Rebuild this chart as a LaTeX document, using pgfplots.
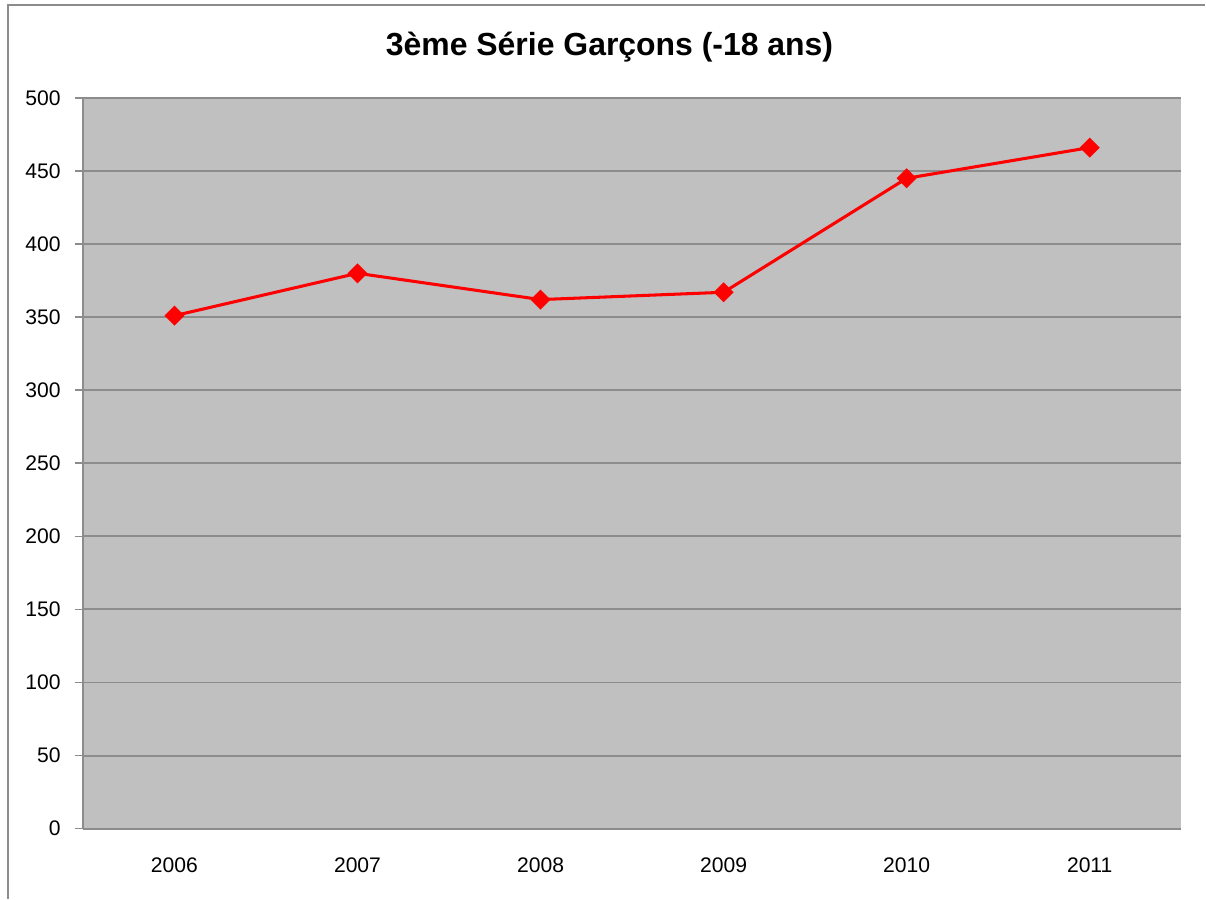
\documentclass[border=0pt]{standalone}
\usepackage{fontspec}
\setmainfont{Liberation Sans}
\usepackage{pgfplots}
\pgfplotsset{compat=1.18}
\definecolor{plotbg}{HTML}{C0C0C0}
\definecolor{gridc}{HTML}{8C8C8C}
\begin{document}
\begin{tikzpicture}
\begin{axis}[
  scale only axis,
  width=395.6pt, height=263.2pt,
  xmin=-0.5, xmax=5.5,
  ymin=0, ymax=500,
  ytick={0,50,...,500},
  xtick={0,...,5},
  xticklabels={2006,2007,2008,2009,2010,2011},
  extra x ticks={-0.5,0.5,1.5,2.5,3.5,4.5,5.5},
  extra x tick labels={},
  extra x tick style={major tick length=3pt, tick style={gridc, line width=0.6pt}, grid=none},
  major x tick style={draw=none},
  axis background/.style={fill=plotbg},
  axis x line*=bottom, axis y line*=left,
  axis line style={gridc, line width=0.8pt, -},
  ymajorgrids, grid style={gridc, line width=0.7pt},
  tick align=outside,
  major tick length=3pt,
  y tick style={gridc, line width=0.6pt},
  tick label style={font=\fontsize{7.6}{9}\selectfont, black},
  yticklabel style={xshift=-1.5pt},
  xticklabel style={yshift=-4pt},
  /pgf/number format/assume math mode=true,
  clip=false,
]
\addplot[red, line width=1.1pt, mark=square*, mark size=2pt, mark options={fill=red, draw=red, rotate=45}]
  coordinates {(0,351) (1,380) (2,362) (3,367) (4,445) (5,466)};
\node[font=\fontsize{11.5}{13}\selectfont\bfseries] at (axis description cs:0.4795,1.07) {3ème Série Garçons (-18 ans)};
\draw[gridc, line width=0.6pt] (axis description cs:-0.0682,-0.0958) -- (axis description cs:-0.0682,1.127) -- (axis description cs:1.0218,1.127);
\path (axis description cs:-0.0755,-0.0958) rectangle (axis description cs:1.0218,1.134);
\end{axis}
\end{tikzpicture}
\end{document}
